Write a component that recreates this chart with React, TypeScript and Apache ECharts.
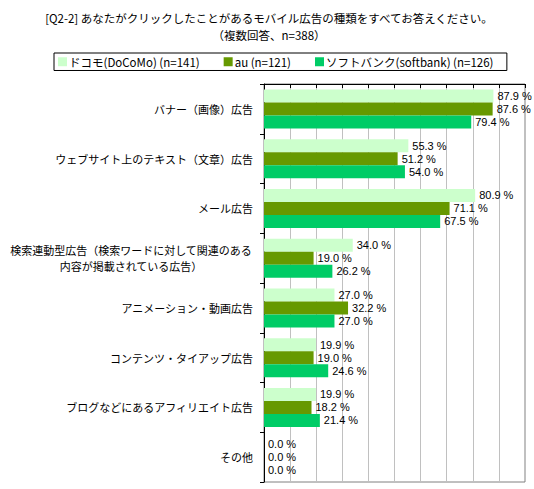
import React, { useEffect, useRef } from "react";
import * as echarts from "echarts";

const categories = [
  "バナー（画像）広告",
  "ウェブサイト上のテキスト（文章）広告",
  "メール広告",
  "検索連動型広告（検索ワードに対して関連のある\n内容が掲載されている広告）",
  "アニメーション・動画広告",
  "コンテンツ・タイアップ広告",
  "ブログなどにあるアフィリエイト広告",
  "その他",
];
const seriesNames = [
  "ドコモ(DoCoMo) (n=141)",
  "au (n=121)",
  "ソフトバンク(softbank) (n=126)",
];
const docomo = [87.9, 55.3, 80.9, 34.0, 27.0, 19.9, 19.9, 0.0];
const au = [87.6, 51.2, 71.1, 19.0, 32.2, 19.0, 18.2, 0.0];
const softbank = [79.4, 54.0, 67.5, 26.2, 27.0, 24.6, 21.4, 0.0];
const colors = ["#CCFFCC", "#669900", "#00CC66"];
const titleLines = [
  "[Q2-2] あなたがクリックしたことがあるモバイル広告の種類をすべてお答えください。",
  "（複数回答、n=388）",
];

const FONT = "'Noto Sans CJK JP', sans-serif";

export default function App() {
  const ref = useRef<HTMLDivElement>(null);
  useEffect(() => {
    if (!ref.current) return;
    const chart = echarts.init(ref.current, null, { renderer: "svg" });
    const data = [docomo, au, softbank];
    chart.setOption({
      animation: false,
      backgroundColor: "#ffffff",
      title: {
        text: titleLines.join("\n"),
        left: 264,
        top: 4,
        textAlign: "center",
        textStyle: {
          fontFamily: FONT,
          fontSize: 11.5,
          fontWeight: "normal",
          color: "#000",
          lineHeight: 17,
          align: "center",
        },
      },
      legend: {
        top: 53,
        left: 54,
        padding: [3, 14, 3, 4],
        itemGap: 24,
        itemWidth: 9,
        itemHeight: 9,
        borderColor: "#000",
        borderWidth: 1,
        icon: "rect",
        textStyle: { fontFamily: FONT, fontSize: 11.5, color: "#000", padding: [0, 0, 0, -3] },
        data: seriesNames,
      },
      grid: {
        left: 264,
        top: 84,
        right: 9,
        bottom: 7,
        show: true,
        borderColor: "#808080",
        borderWidth: 1,
        backgroundColor: "transparent",
      },
      xAxis: {
        type: "value",
        position: "top",
        min: 0,
        max: 100,
        interval: 10,
        axisLabel: { show: false },
        axisLine: { show: true, lineStyle: { color: "#000", width: 1 } },
        axisTick: { show: true, inside: true, length: 4, lineStyle: { color: "#000" } },
        splitLine: { show: true, lineStyle: { color: "#c0c0c0", width: 1 } },
      },
      yAxis: {
        type: "category",
        inverse: true,
        data: categories,
        axisLine: { show: true, lineStyle: { color: "#000", width: 1 } },
        axisTick: { show: true, length: 4, interval: 0, lineStyle: { color: "#000" } },
        axisLabel: {
          interval: 0,
          margin: 11,
          fontFamily: FONT,
          fontSize: 11,
          color: "#000",
          formatter: (v: string) => {
            if (v.indexOf("\n") >= 0) {
              return v
                .split("\n")
                .map((l) => "{c|" + l + "}")
                .join("\n");
            }
            return v;
          },
          rich: {
            c: { width: 244, align: "center", fontFamily: FONT, fontSize: 11, color: "#000", lineHeight: 16 },
          },
        },
      },
      series: seriesNames.map((name, i) => ({
        name,
        type: "bar",
        data: data[i],
        barWidth: 13,
        barGap: "0%",
        itemStyle: { color: colors[i] },
        label: {
          show: true,
          position: "right",
          distance: 4,
          fontFamily: "'Liberation Sans', Arial, sans-serif",
          fontSize: 11,
          color: "#000",
          formatter: (p: any) => Number(p.value).toFixed(1) + " %",
        },
      })),
    });
    return () => chart.dispose();
  }, []);
  return (
    <div
      ref={ref}
      style={{ position: "fixed", left: 0, top: 0, width: 534, height: 489 }}
    />
  );
}
